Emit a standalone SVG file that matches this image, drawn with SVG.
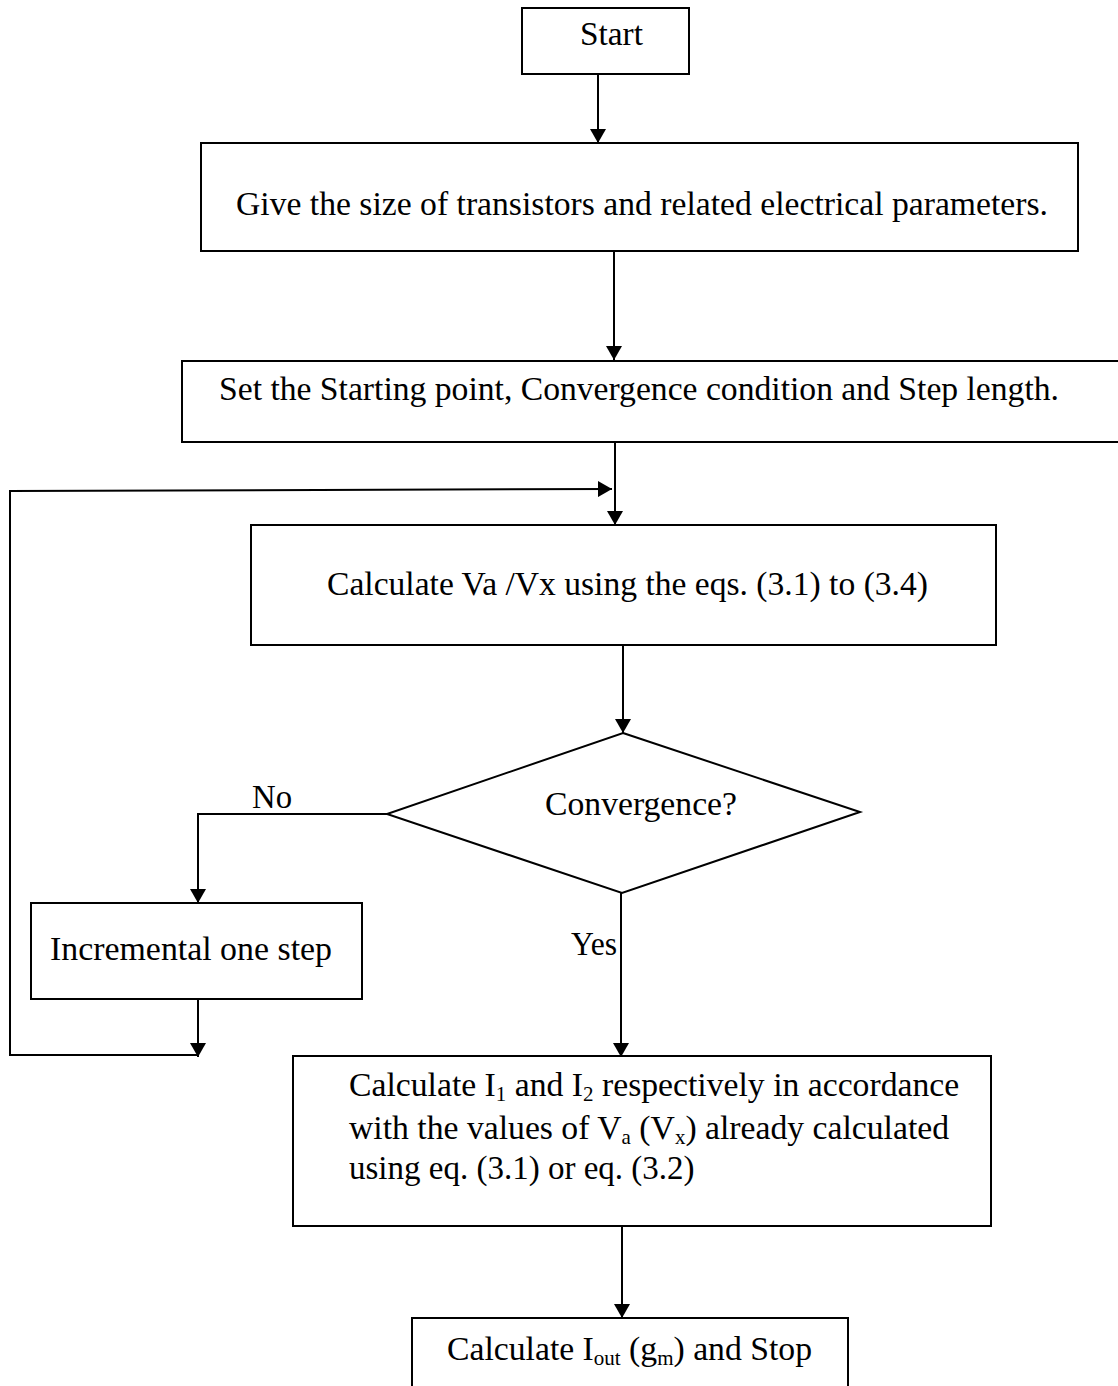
<svg xmlns="http://www.w3.org/2000/svg" width="1118" height="1386" viewBox="0 0 1118 1386">
<style>
.box{fill:#fff;stroke:#000;stroke-width:2}
.ln{fill:none;stroke:#000;stroke-width:2}
text{font-family:"Liberation Serif","Times New Roman",serif;font-size:33px;fill:#000}
.big{font-size:33.7px}
.sub{font-size:21px}
</style>
<defs>
<marker id="ah" markerWidth="14" markerHeight="16" refX="14" refY="8" orient="auto" markerUnits="userSpaceOnUse">
<path d="M0,0 L14,8 L0,16 Z" fill="#000"/>
</marker>
</defs>
<rect width="1118" height="1386" fill="#fff"/>
<g id="connectors">
<line class="ln" x1="598" y1="74" x2="598" y2="143" marker-end="url(#ah)"/>
<line class="ln" x1="614" y1="251" x2="614" y2="360" marker-end="url(#ah)"/>
<line class="ln" x1="615" y1="442" x2="615" y2="525" marker-end="url(#ah)"/>
<polyline class="ln" points="198,1055 10,1055 10,491 612,489" marker-end="url(#ah)"/>
<line class="ln" x1="623" y1="645" x2="623" y2="733" marker-end="url(#ah)"/>
<polyline class="ln" points="387,814 198,814 198,903" marker-end="url(#ah)"/>
<line class="ln" x1="198" y1="999" x2="198" y2="1057" marker-end="url(#ah)"/>
<line class="ln" x1="621" y1="893" x2="621" y2="1057" marker-end="url(#ah)"/>
<line class="ln" x1="622" y1="1226" x2="622" y2="1318" marker-end="url(#ah)"/>
<text x="252" y="808" textLength="40" lengthAdjust="spacingAndGlyphs">No</text>
<text x="571" y="955" textLength="46" lengthAdjust="spacingAndGlyphs">Yes</text>
</g>
<g id="start">
<rect class="box" x="522" y="8" width="167" height="66"/>
<text x="580" y="45" textLength="63" lengthAdjust="spacingAndGlyphs">Start</text>
</g>
<g id="give">
<rect class="box" x="201" y="143" width="877" height="108"/>
<text x="236" y="215" textLength="812" lengthAdjust="spacingAndGlyphs">Give the size of transistors and related electrical parameters.</text>
</g>
<g id="set">
<rect class="box" x="182" y="361" width="940" height="81"/>
<text x="219" y="400" textLength="840" lengthAdjust="spacingAndGlyphs">Set the Starting point, Convergence condition and Step length.</text>
</g>
<g id="calcva">
<rect class="box" x="251" y="525" width="745" height="120"/>
<text x="327" y="595" textLength="601" lengthAdjust="spacingAndGlyphs">Calculate Va /Vx using the eqs. (3.1) to (3.4)</text>
</g>
<g id="convergence">
<polygon class="box" points="623,733 860,812 622,893 387,814"/>
<text x="545" y="815" textLength="192" lengthAdjust="spacingAndGlyphs">Convergence?</text>
</g>
<g id="incremental">
<rect class="box" x="31" y="903" width="331" height="96"/>
<text x="50" y="960" textLength="282" lengthAdjust="spacingAndGlyphs">Incremental one step</text>
</g>
<g id="calci">
<rect class="box" x="293" y="1056" width="698" height="170"/>
<text class="big" x="349" y="1096">Calculate I<tspan class="sub" dy="5">1</tspan><tspan dy="-5"> and I</tspan><tspan class="sub" dy="5">2</tspan><tspan dy="-5"> respectively in accordance</tspan></text>
<text class="big" x="349" y="1139">with the values of V<tspan class="sub" dy="5">a</tspan><tspan dy="-5"> (V</tspan><tspan class="sub" dy="5">x</tspan><tspan dy="-5">) already calculated</tspan></text>
<text x="349" y="1179">using eq. (3.1) or eq. (3.2)</text>
</g>
<g id="stop">
<rect class="box" x="412" y="1318" width="436" height="80"/>
<text class="big" x="447" y="1360">Calculate I<tspan class="sub" dy="5">out</tspan><tspan dy="-5"> (g</tspan><tspan class="sub" dy="5">m</tspan><tspan dy="-5">) and Stop</tspan></text>
</g>
</svg>
